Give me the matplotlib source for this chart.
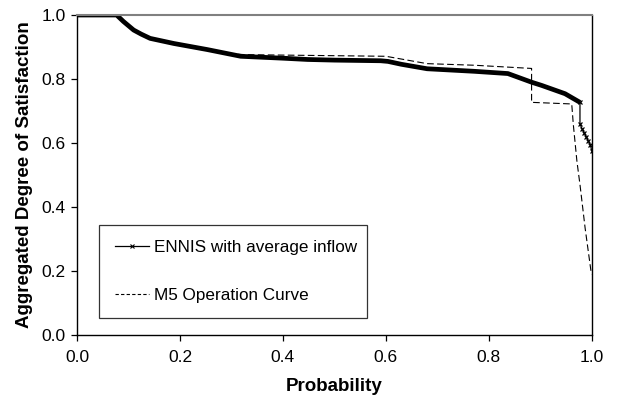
import matplotlib
matplotlib.use("Agg")
import matplotlib.pyplot as plt
from matplotlib.lines import Line2D
from matplotlib.ticker import FormatStrFormatter

plt.rcParams['font.family'] = ['Liberation Sans', 'DejaVu Sans']

# ENNIS with average inflow
ennis_p = [0.0, 0.077, 0.09, 0.11, 0.125, 0.142, 0.188, 0.253, 0.318, 0.40, 0.448,
           0.50, 0.59, 0.604, 0.63, 0.68, 0.772, 0.837, 0.883, 0.9025, 0.948, 0.977]
ennis_v = [1.0, 1.0, 0.98, 0.953, 0.94, 0.927, 0.911, 0.892, 0.871, 0.865, 0.861,
           0.859, 0.857, 0.855, 0.846, 0.832, 0.824, 0.817, 0.79, 0.78, 0.754, 0.727]
# sparse tail of the same series
tail_p = [0.977, 0.977, 0.981, 0.985, 0.989, 0.993, 0.997, 1.0]
tail_v = [0.727, 0.659, 0.645, 0.632, 0.62, 0.607, 0.595, 0.575]

# M5 operation curve
m5_p = [0.0, 0.077, 0.09, 0.11, 0.125, 0.142, 0.188, 0.253, 0.30, 0.33, 0.60,
        0.68, 0.772, 0.883, 0.883, 0.961, 0.964, 0.971, 0.977, 0.987, 0.9985, 1.0]
m5_v = [1.0, 1.0, 0.98, 0.953, 0.94, 0.927, 0.911, 0.892, 0.878, 0.876, 0.871,
        0.848, 0.843, 0.833, 0.727, 0.722, 0.659, 0.544, 0.47, 0.334, 0.198, 0.19]

fig = plt.figure(figsize=(6.21, 3.95), dpi=100)
ax = fig.add_axes([0.124, 0.152, 0.829, 0.810])

ax.plot(m5_p, m5_v, color='black', lw=0.8, ls=(0, (6, 3)))
ax.plot(ennis_p, ennis_v, color='black', lw=3.4, solid_capstyle='butt')
ax.plot(tail_p, tail_v, color='black', lw=0.9, marker='x', ms=3.5, mew=0.9)

ax.set_xlim(0, 1)
ax.set_ylim(0, 1)
ax.set_xticks([0, 0.2, 0.4, 0.6, 0.8, 1.0])
ax.set_yticks([0, 0.2, 0.4, 0.6, 0.8, 1.0])
ax.xaxis.set_major_formatter(FormatStrFormatter('%.1f'))
ax.yaxis.set_major_formatter(FormatStrFormatter('%.1f'))
ax.tick_params(direction='out', length=4, width=0.9, labelsize=12.5, pad=4)
ax.tick_params(axis='x', pad=7)

for s in ['left', 'bottom', 'right']:
    ax.spines[s].set_color('black')
    ax.spines[s].set_linewidth(1.0)
ax.spines['top'].set_color('#808080')
ax.spines['top'].set_linewidth(1.5)
ax.tick_params(axis='both', which='both', top=False, right=False)

ax.set_xlabel('Probability', fontsize=13.5, fontweight='bold', labelpad=9)
ax.set_ylabel('Aggregated Degree of Satisfaction', fontsize=13.5, fontweight='bold', labelpad=6)

handles = [
    Line2D([0, 0.5, 1], [0, 0, 0], color='black', lw=0.9, marker='x', ms=3, mew=0.8, markevery=[1]),
    Line2D([], [], color='black', lw=0.8, ls=(0, (3, 2))),
]
leg = ax.legend(handles, ['ENNIS with average inflow', 'M5 Operation Curve'],
                loc='lower left', bbox_to_anchor=(0.043, 0.053, 0.52, 0.296),
                mode='expand', fontsize=12.3, frameon=True, fancybox=False,
                edgecolor='black', handlelength=2.0, handletextpad=0.3,
                labelspacing=1.9, borderpad=0.9, borderaxespad=0)
leg.get_frame().set_linewidth(0.9)

fig.savefig('out.png', dpi=100)
